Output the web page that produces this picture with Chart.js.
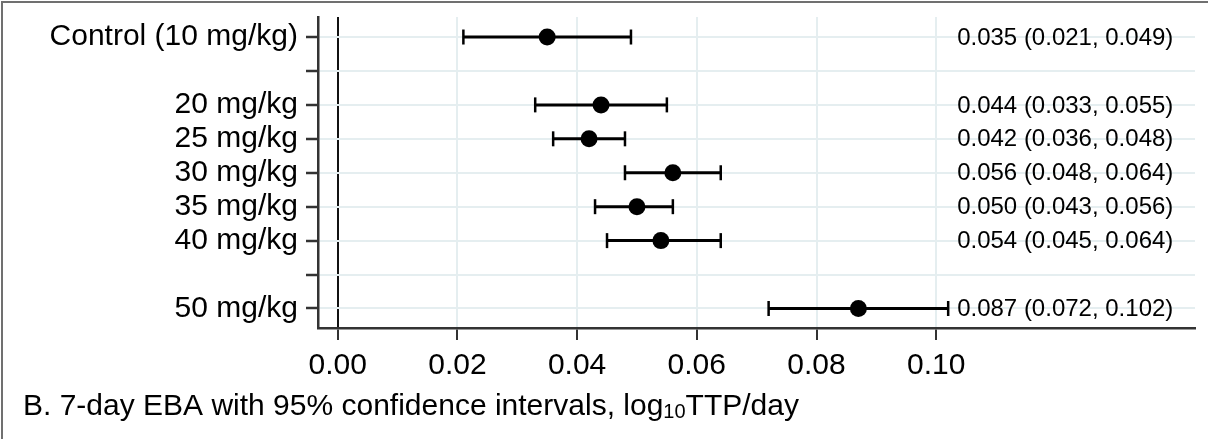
<!DOCTYPE html>
<html>
<head>
<meta charset="utf-8">
<script src="https://cdn.jsdelivr.net/npm/chart.js@4"></script>
<style>
  html, body { margin: 0; padding: 0; background: #fff; }
  #wrap { position: relative; width: 1208px; height: 439px; }
  #frame { position: absolute; left: 1px; top: 1px; right: 0; bottom: 0;
           border-top: 2px solid #707070; border-left: 2px solid #707070; pointer-events: none; }
  canvas { position: absolute; left: 0; top: 0; }
</style>
</head>
<body>
<div id="wrap">
  <canvas id="forest" width="1208" height="439"></canvas>
  <div id="frame"></div>
</div>
<script>
// rows top to bottom, empty strings are spacer rows
const rowLabels = ["Control (10 mg/kg)", "", "20 mg/kg", "25 mg/kg", "30 mg/kg", "35 mg/kg", "40 mg/kg", "", "50 mg/kg"];
const estimate = [0.035, null, 0.044, 0.042, 0.056, 0.050, 0.054, null, 0.087];
const lower    = [0.021, null, 0.033, 0.036, 0.048, 0.043, 0.045, null, 0.072];
const upper    = [0.049, null, 0.055, 0.048, 0.064, 0.056, 0.064, null, 0.102];
const xTicks = [0, 0.02, 0.04, 0.06, 0.08, 0.10];
const labelX = 0.1035; // where the estimate text column starts
const titleMain = "B. 7-day EBA with 95% confidence intervals, log";
const titleSub = "10";
const titleEnd = "TTP/day";

const FONT = '"Liberation Sans", Arial, Helvetica, sans-serif';
const gridColor = "#e5eef0";
const axisColor = "#333";

const rows = rowLabels.map((_, i) => i);

const datasets = [];
rows.forEach(i => {
  if (estimate[i] === null) return;
  datasets.push({
    data: [{ x: lower[i], y: i }, { x: upper[i], y: i }],
    showLine: true,
    borderColor: "#000",
    borderWidth: 3,
    pointStyle: "line",
    rotation: 90,
    pointRadius: 7.5,
    pointBorderWidth: 2.5,
    pointBorderColor: "#000",
    order: 2
  });
});
datasets.push({
  data: rows.filter(i => estimate[i] !== null).map(i => ({ x: estimate[i], y: i })),
  pointRadius: 8.5,
  pointBackgroundColor: "#000",
  pointBorderWidth: 0,
  order: 1
});

const estimateText = {
  id: "estimateText",
  afterDatasetsDraw(chart) {
    const { ctx, scales: { x, y } } = chart;
    ctx.save();
    ctx.font = "24px " + FONT;
    ctx.fillStyle = "#000";
    ctx.textAlign = "left";
    ctx.textBaseline = "middle";
    rows.forEach(i => {
      if (estimate[i] === null) return;
      const txt = `${estimate[i].toFixed(3)} (${lower[i].toFixed(3)}, ${upper[i].toFixed(3)})`;
      ctx.fillText(txt, x.getPixelForValue(labelX), y.getPixelForValue(i) + 1);
    });
    ctx.restore();
  }
};

const bottomTitle = {
  id: "bottomTitle",
  afterDraw(chart) {
    const ctx = chart.ctx;
    ctx.save();
    ctx.fillStyle = "#000";
    ctx.textBaseline = "alphabetic";
    ctx.textAlign = "left";
    let px = 23;
    const base = 415;
    ctx.font = "30px " + FONT;
    ctx.fillText(titleMain, px, base);
    px += ctx.measureText(titleMain).width;
    ctx.font = "20px " + FONT;
    ctx.fillText(titleSub, px, base + 3);
    px += ctx.measureText(titleSub).width;
    ctx.font = "30px " + FONT;
    ctx.fillText(titleEnd, px, base);
    ctx.restore();
  }
};

new Chart(document.getElementById("forest"), {
  type: "scatter",
  data: { datasets },
  plugins: [estimateText, bottomTitle],
  options: {
    responsive: false,
    animation: false,
    layout: { padding: { left: 0, top: 17, right: 13, bottom: 0 } },
    plugins: { legend: { display: false }, tooltip: { enabled: false } },
    scales: {
      x: {
        type: "linear",
        min: -0.00329,
        max: 0.14324,
        afterBuildTicks: s => { s.ticks = xTicks.map(v => ({ value: v })); },
        afterFit: s => { s.height = 111; s.paddingLeft = 0; s.paddingRight = 0; },
        ticks: {
          color: "#000",
          font: { family: FONT, size: 30 },
          padding: 8,
          maxRotation: 0,
          autoSkip: false,
          callback: v => Number(v).toFixed(2)
        },
        grid: {
          color: c => (c.tick && c.tick.value === 0 ? "#111" : gridColor),
          lineWidth: 2,
          tickColor: axisColor,
          tickLength: 12,
          tickWidth: 2
        },
        border: { display: true, color: axisColor, width: 2.5 }
      },
      y: {
        type: "linear",
        reverse: true,
        min: -0.59,
        max: 8.575,
        afterBuildTicks: s => { s.ticks = rows.map(v => ({ value: v })); },
        afterFit: s => { s.width = 318; s.paddingTop = 0; s.paddingBottom = 0; },
        ticks: {
          color: "#000",
          font: { family: FONT, size: 30 },
          padding: 8,
          autoSkip: false,
          callback: v => rowLabels[v]
        },
        grid: {
          color: gridColor,
          lineWidth: 2,
          tickColor: axisColor,
          tickLength: 12,
          tickWidth: 2.5
        },
        border: { display: true, color: axisColor, width: 2.5 }
      }
    }
  }
});
</script>
</body>
</html>
